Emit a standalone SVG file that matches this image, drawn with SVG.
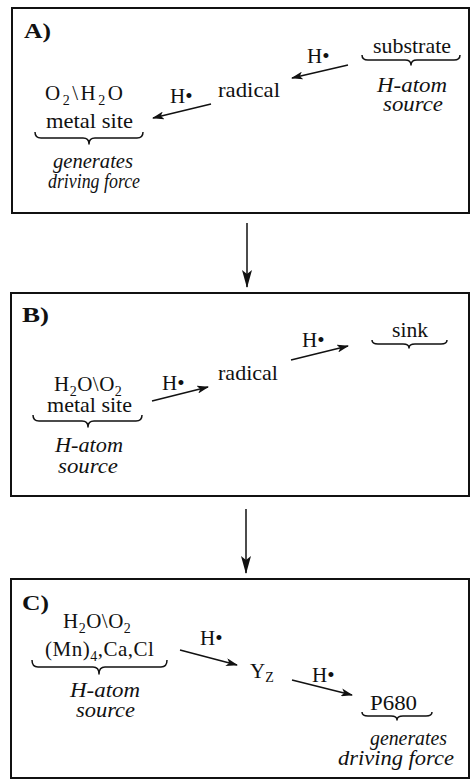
<svg xmlns="http://www.w3.org/2000/svg" width="471" height="779" viewBox="0 0 471 779">
<style>
text{font-family:"Liberation Serif","Times New Roman",serif;font-size:21px;fill:#111}
.b{font-weight:bold;font-size:22px}
.i{font-style:italic;font-size:20px}
.sub{font-size:14px}
.box{fill:none;stroke:#111;stroke-width:2}
.brace{fill:none;stroke:#111;stroke-width:1.5;stroke-linejoin:round}
.arr{stroke:#111;stroke-width:1.5;fill:none;marker-end:url(#ah)}
.varr{stroke:#111;stroke-width:1.5;fill:none;marker-end:url(#vh)}
</style>
<defs>
<marker id="ah" markerUnits="userSpaceOnUse" markerWidth="12" markerHeight="8" refX="11" refY="4" orient="auto">
<path d="M0,0 L12,4 L0,8 L3,4 Z" fill="#111"/>
</marker>
<marker id="vh" markerUnits="userSpaceOnUse" markerWidth="18" markerHeight="10" refX="17" refY="5" orient="auto">
<path d="M0,0 L18,5 L0,10 L4,5 Z" fill="#111"/>
</marker>
</defs>

<g id="panelA">
<rect class="box" x="12" y="8" width="457" height="205"/>
<text class="b" x="24" y="38" textLength="27" lengthAdjust="spacingAndGlyphs">A)</text>
</g>
<g id="panelB">
<rect class="box" x="11" y="293" width="458" height="203"/>
<text class="b" x="22" y="322" textLength="27" lengthAdjust="spacingAndGlyphs">B)</text>
</g>
<g id="panelC">
<rect class="box" x="11" y="579" width="458" height="199"/>
<text class="b" x="22" y="610" textLength="27" lengthAdjust="spacingAndGlyphs">C)</text>
</g>

<g id="A-substrate">
<text x="373" y="53" textLength="78" lengthAdjust="spacingAndGlyphs">substrate</text>
<path class="brace" d="M362 55 Q362 60 368 60 L405 60 Q411 60 411 65 Q411 60 417 60 L454 60 Q460 60 460 55"/>
<text class="i" x="377" y="92" textLength="70" lengthAdjust="spacingAndGlyphs">H-atom</text>
<text class="i" x="383" y="111" textLength="60" lengthAdjust="spacingAndGlyphs">source</text>
</g>
<g id="A-radical">
<text x="218" y="97" textLength="62" lengthAdjust="spacingAndGlyphs">radical</text>
</g>
<g id="A-metal">
<text x="45" y="100" letter-spacing="2.5">O<tspan class="sub" dy="5">2</tspan><tspan dy="-5">\H</tspan><tspan class="sub" dy="5">2</tspan><tspan dy="-5">O</tspan></text>
<text x="46" y="128" textLength="87" lengthAdjust="spacingAndGlyphs">metal site</text>
<path class="brace" d="M35 132 Q35 138 41 138 L83 138 Q89 138 89 144 Q89 138 95 138 L137 138 Q143 138 143 132"/>
<text class="i" x="53" y="168" textLength="80" lengthAdjust="spacingAndGlyphs">generates</text>
<text class="i" x="48" y="188" textLength="92" lengthAdjust="spacingAndGlyphs">driving force</text>
</g>

<g id="B-sink">
<text x="392" y="337" textLength="36" lengthAdjust="spacingAndGlyphs">sink</text>
<path class="brace" d="M372 340 Q372 344 378 344 L403 344 Q409 344 409 348 Q409 344 415 344 L441 344 Q447 344 447 340"/>
</g>
<g id="B-radical">
<text x="218" y="380" textLength="60" lengthAdjust="spacingAndGlyphs">radical</text>
</g>
<g id="B-metal">
<text x="54" y="391" letter-spacing="0.5">H<tspan class="sub" dy="5">2</tspan><tspan dy="-5">O\O</tspan><tspan class="sub" dy="5">2</tspan></text>
<text x="47" y="412" textLength="85" lengthAdjust="spacingAndGlyphs">metal site</text>
<path class="brace" d="M33 415 Q33 421 39 421 L82 421 Q88 421 88 427 Q88 421 94 421 L136 421 Q142 421 142 415"/>
<text class="i" x="55" y="452" textLength="68" lengthAdjust="spacingAndGlyphs">H-atom</text>
<text class="i" x="58" y="473" textLength="60" lengthAdjust="spacingAndGlyphs">source</text>
</g>

<g id="C-source">
<text x="63" y="628" letter-spacing="0.5">H<tspan class="sub" dy="5">2</tspan><tspan dy="-5">O\O</tspan><tspan class="sub" dy="5">2</tspan></text>
<text x="45" y="656" letter-spacing="0.5">(Mn)<tspan class="sub" dy="5">4</tspan><tspan dy="-5">,Ca,Cl</tspan></text>
<path class="brace" d="M32 660 Q32 667 38 667 L93 667 Q99 667 99 674 Q99 667 105 667 L161 667 Q167 667 167 660"/>
<text class="i" x="70" y="697" textLength="70" lengthAdjust="spacingAndGlyphs">H-atom</text>
<text class="i" x="76" y="717" textLength="59" lengthAdjust="spacingAndGlyphs">source</text>
</g>
<g id="C-Yz">
<text x="250" y="678">Y<tspan class="sub" dy="4">Z</tspan></text>
</g>
<g id="C-P680">
<text x="370" y="710" textLength="47" lengthAdjust="spacingAndGlyphs">P680</text>
<path class="brace" d="M362 712 Q362 716 368 716 L391 716 Q397 716 397 720 Q397 716 403 716 L426 716 Q432 716 432 712"/>
<text class="i" x="370" y="745" textLength="77" lengthAdjust="spacingAndGlyphs">generates</text>
<text class="i" x="338" y="765" textLength="116" lengthAdjust="spacingAndGlyphs">driving force</text>
</g>

<g id="connectors">
<line class="arr" x1="348" y1="65" x2="292" y2="78"/>
<text x="307" y="63">H•</text>
<line class="arr" x1="211" y1="104" x2="153" y2="118"/>
<text x="170" y="103">H•</text>
<line class="varr" x1="247" y1="223" x2="247" y2="287"/>
<line class="arr" x1="152" y1="401" x2="208" y2="387"/>
<text x="162" y="390">H•</text>
<line class="arr" x1="291" y1="360" x2="348" y2="346"/>
<text x="302" y="347">H•</text>
<line class="varr" x1="246" y1="509" x2="246" y2="573"/>
<line class="arr" x1="180" y1="650" x2="237" y2="665"/>
<text x="200" y="645">H•</text>
<line class="arr" x1="292" y1="680" x2="352" y2="695"/>
<text x="312" y="682">H•</text>
</g>
</svg>
